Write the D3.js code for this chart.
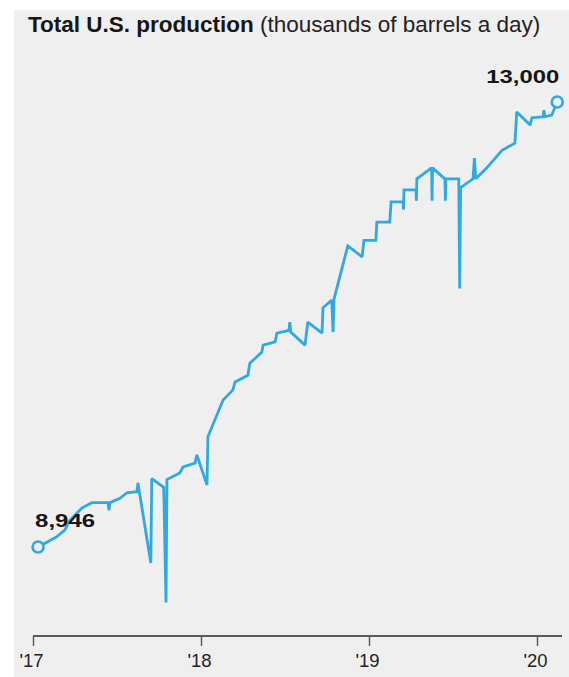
<!DOCTYPE html>
<html>
<head>
<meta charset="utf-8">
<script src="https://cdn.jsdelivr.net/npm/d3@7/dist/d3.min.js"></script>
<style>
  html, body { margin: 0; padding: 0; background: #ffffff; }
  svg { display: block; }
  text { font-family: "Liberation Sans", Arial, Helvetica, sans-serif; }
</style>
</head>
<body>
<svg id="chart" width="569" height="677"></svg>
<script>
// Weekly U.S. crude oil field production, thousands of barrels a day
const dates = [
  "2017-01-12","2017-01-31","2017-02-22","2017-03-11","2017-03-22","2017-04-17",
  "2017-05-09","2017-06-13","2017-06-15","2017-06-17","2017-07-09","2017-07-24",
  "2017-08-15","2017-08-17","2017-09-14","2017-09-16","2017-10-12","2017-10-17",
  "2017-10-19","2017-11-16","2017-11-23","2017-12-19","2017-12-23",
  "2018-01-14","2018-01-16","2018-02-18","2018-03-11","2018-03-16","2018-04-13",
  "2018-04-17","2018-05-13","2018-05-16","2018-06-11","2018-06-15","2018-07-11",
  "2018-07-13","2018-07-15","2018-08-15","2018-08-21","2018-09-21","2018-09-23",
  "2018-10-12","2018-10-15","2018-10-17","2018-11-16","2018-12-17","2018-12-21",
  "2019-01-16","2019-01-18","2019-02-15","2019-02-18","2019-03-16","2019-03-17",
  "2019-03-18","2019-04-13","2019-04-14","2019-04-15","2019-05-17","2019-05-18",
  "2019-05-19","2019-06-15","2019-06-16","2019-06-17","2019-07-15","2019-07-17",
  "2019-07-19","2019-08-15","2019-08-18","2019-08-21","2019-09-14","2019-10-17",
  "2019-11-14","2019-11-18","2019-12-17","2019-12-21",
  "2020-01-14","2020-01-16","2020-01-18","2020-02-02","2020-02-14"
];
const production = [
  8946, 8990, 9040, 9100, 9190, 9300,
  9350, 9350, 9280, 9350, 9390, 9440,
  9450, 9530, 8800, 9570, 9490, 8440,
  9560, 9620, 9675, 9710, 9785,
  9510, 9950, 10285, 10375, 10450, 10510,
  10620, 10720, 10785, 10815, 10895, 10920,
  10995, 10905, 10785, 10995, 10895, 11125,
  11195, 10905, 11205, 11690, 11590, 11740,
  11740, 11905, 11905, 12090, 12090, 12020,
  12200, 12200, 12100, 12300, 12400, 12100,
  12400, 12300, 12100, 12300, 12300, 11300,
  12220, 12300, 12490, 12300, 12400, 12560,
  12625, 12910, 12790, 12855,
  12865, 12925, 12865, 12880, 13000
];
const tickYears = ["2017-01-01", "2018-01-01", "2019-01-01", "2020-01-01"];
const tickLabels = ["'17", "'18", "'19", "'20"];
const titleBold = "Total U.S. production";
const titleRest = "(thousands of barrels a day)";

const parse = d3.timeParse("%Y-%m-%d");
const series = dates.map((d, i) => ({ date: parse(d), value: production[i] }));
const first = series[0];
const last = series[series.length - 1];

const svg = d3.select("#chart");
const blue = "#2ea9e1";
const panel = "#efefef";

// panel background
svg.append("rect")
  .attr("x", 14).attr("y", 10)
  .attr("width", 569 - 14).attr("height", 677 - 10)
  .attr("fill", panel);

// title
const title = svg.append("text")
  .attr("x", 28).attr("y", 32)
  .attr("font-size", 22.5)
  .attr("fill", "#161616");
title.append("tspan").attr("font-weight", "bold").text(titleBold);
title.append("tspan").attr("font-weight", "normal").attr("fill", "#222").text(" " + titleRest);

const x = d3.scaleTime()
  .domain([parse(tickYears[0]), parse(tickYears[3])])
  .range([33, 537]);
const y = d3.scaleLinear()
  .domain([8946, 13000])
  .range([547, 102]);

// x axis
const axisY = 636;
const axis = d3.axisBottom(x)
  .tickValues(tickYears.map(parse))
  .tickFormat((d, i) => tickLabels[i])
  .tickSize(10)
  .tickSizeOuter(0);
const gAxis = svg.append("g")
  .attr("transform", `translate(0,${axisY})`)
  .call(axis);
gAxis.select(".domain").remove();
gAxis.append("line")
  .attr("x1", 33).attr("x2", 562)
  .attr("y1", 0).attr("y2", 0)
  .attr("stroke", "#5a5a5a").attr("stroke-width", 2);
gAxis.selectAll(".tick line")
  .attr("stroke", "#5a5a5a").attr("stroke-width", 1.5);
gAxis.selectAll(".tick text")
  .attr("font-size", 18.5)
  .attr("font-family", "Liberation Sans, Arial, sans-serif")
  .attr("fill", "#222")
  .attr("dy", "0")
  .attr("x", -2)
  .attr("y", 31);

// production line
const line = d3.line()
  .x(d => x(d.date))
  .y(d => y(d.value));
svg.append("path")
  .datum(series)
  .attr("d", line)
  .attr("fill", "none")
  .attr("stroke", blue)
  .attr("stroke-width", 2.8)
  .attr("stroke-linejoin", "miter")
  .attr("stroke-miterlimit", 2);

// end-point markers
svg.selectAll("circle.end")
  .data([first, last])
  .join("circle")
  .attr("class", "end")
  .attr("cx", d => x(d.date))
  .attr("cy", d => y(d.value))
  .attr("r", 5.5)
  .attr("fill", panel)
  .attr("stroke", blue)
  .attr("stroke-width", 2.6);

// value labels
const fmt = d3.format(",");
svg.append("text")
  .attr("x", x(first.date) - 3)
  .attr("y", y(first.value) - 20)
  .attr("font-size", 19)
  .attr("font-weight", "bold")
  .attr("fill", "#161616")
  .attr("textLength", 60)
  .attr("lengthAdjust", "spacingAndGlyphs")
  .text(fmt(first.value));
svg.append("text")
  .attr("x", x(last.date) + 2)
  .attr("y", y(last.value) - 19)
  .attr("text-anchor", "end")
  .attr("font-size", 19)
  .attr("font-weight", "bold")
  .attr("fill", "#161616")
  .attr("textLength", 73)
  .attr("lengthAdjust", "spacingAndGlyphs")
  .text(fmt(last.value));
</script>
</body>
</html>
